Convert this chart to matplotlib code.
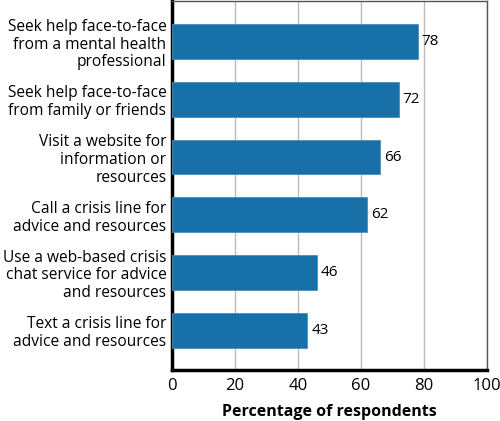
import matplotlib
matplotlib.use("Agg")
import matplotlib.pyplot as plt

plt.rcParams['font.family'] = ['Open Sans', 'DejaVu Sans']

# Survey responses, top to bottom
labels = [
    "Seek help face-to-face\nfrom a mental health\nprofessional",
    "Seek help face-to-face\nfrom family or friends",
    "Visit a website for\ninformation or\nresources",
    "Call a crisis line for\nadvice and resources",
    "Use a web-based crisis\nchat service for advice\nand resources",
    "Text a crisis line for\nadvice and resources",
]
values = [78, 72, 66, 62, 46, 43]
xticks = [0, 20, 40, 60, 80, 100]

fig = plt.figure(figsize=(5, 4.21), dpi=100)
ax = fig.add_axes([0.344, 0.121, 0.630, 0.876])

pos = list(range(len(values)))
ax.barh(pos, values, height=0.6, color='#1870a9', edgecolor='#4a8fc0', linewidth=0.6, zorder=3)
for p, v in zip(pos, values):
    ax.text(v + 1.2, p, str(v), va='center', ha='left', fontsize=11)

ax.set_xlim(0, 100)
ax.set_ylim(5.69, -0.7)
ax.set_xticks(xticks)
ax.set_xticklabels([str(t) for t in xticks], fontsize=12)
ax.set_yticks(pos)
ax.set_yticklabels(labels, fontsize=11.2, linespacing=1.15)
ax.tick_params(axis='both', length=0)
ax.tick_params(axis='y', pad=4)
ax.tick_params(axis='x', pad=6)

ax.grid(axis='x', color='#bbbbbb', linewidth=1, zorder=0)
ax.spines['left'].set_linewidth(2.5)
ax.spines['bottom'].set_linewidth(2.5)
ax.spines['top'].set_color('#555555')
ax.spines['right'].set_color('#555555')
ax.spines['top'].set_linewidth(1)
ax.spines['right'].set_linewidth(1)

ax.set_xlabel('Percentage of respondents', fontsize=11.5, fontweight='bold', labelpad=7)

fig.savefig('out.png', dpi=100)
